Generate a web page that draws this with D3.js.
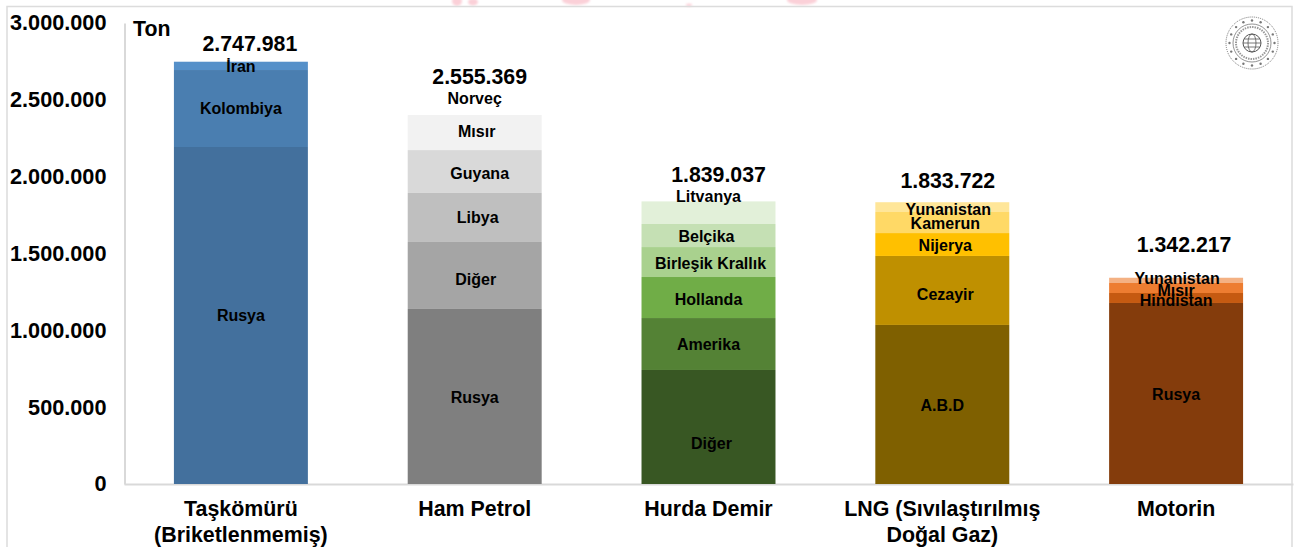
<!DOCTYPE html>
<html lang="tr">
<head>
  <meta charset="UTF-8" />
  <title>Ton</title>
  <script src="https://d3js.org/d3.v7.min.js" charset="utf-8"></script>
  <style type="text/css">
  html, body {
    margin: 0;
    padding: 0;
    background: #fff;
    overflow: hidden;
  }

  svg {
    display: block;
    font-family: "Liberation Sans", Arial, sans-serif;
    font-weight: bold;
    fill: #000;
  }

  .axis path.domain {
    stroke: #d9d9d9;
    stroke-width: 2px;
  }

  .axis text {
    fill: #000;
  }

  .y.axis text {
    font-size: 21.7px;
  }

  .x.axis text {
    font-size: 21.4px;
  }

  .seg-label {
    font-size: 16px;
    text-anchor: middle;
  }

  .total {
    font-size: 21.3px;
    text-anchor: middle;
  }
  </style>
</head>
<body>
<script type="text/javascript">

// values
var categories = ["Taşkömürü (Briketlenmemiş)", "Ham Petrol", "Hurda Demir", "LNG (Sıvılaştırılmış Doğal Gaz)", "Motorin"];
var totals = [2747981, 2555369, 1839037, 1833722, 1342217];

// bottom to top in each bar
var segNames = [
  ["Rusya", "Kolombiya", "İran"],
  ["Rusya", "Diğer", "Libya", "Guyana", "Mısır", "Norveç"],
  ["Diğer", "Amerika", "Hollanda", "Birleşik Krallık", "Belçika", "Litvanya"],
  ["A.B.D", "Cezayir", "Nijerya", "Kamerun", "Yunanistan"],
  ["Rusya", "Hindistan", "Mısır", "Yunanistan"]
];
var segValues = [
  [2193000, 501000, 53981],
  [1139000, 436000, 319000, 279000, 228000, 154369],
  [742000, 338000, 267000, 195000, 150000, 147037],
  [1035000, 449000, 149000, 137000, 63722],
  [1178000, 65000, 65000, 34217]
];
var segColors = [
  ["#43709d", "#4a7eb0", "#5590c9"],
  ["#7f7f7f", "#a5a5a5", "#bfbfbf", "#d9d9d9", "#f2f2f2", "#ffffff"],
  ["#385723", "#548235", "#70ad47", "#a9d18e", "#c5e0b4", "#e2f0d9"],
  ["#7f6000", "#bf9000", "#ffc000", "#ffd966", "#ffe699"],
  ["#843c0c", "#c55a11", "#ed7d31", "#f4b183"]
];
var yTicks = [0, 500000, 1000000, 1500000, 2000000, 2500000, 3000000];

// labels the original moved off the middle of their segment, "bar-seg": [dx, dy]
var labelNudge = {
  "0-2": [0, 1],
  "1-0": [0, 1], "1-1": [1, 4], "1-3": [5, 2], "1-2": [3, 0], "1-4": [2, -1.5], "1-5": [0, -5],
  "2-0": [3, 16], "2-1": [0, 0], "2-2": [0, 2], "2-3": [2, 1], "2-4": [-2, 1], "2-5": [0, -16],
  "3-0": [0, 1], "3-1": [3, 4], "3-2": [3, 1], "3-3": [3, 1], "3-4": [6, 2],
  "4-0": [0, 1], "4-1": [0, 2.5], "4-2": [0, 2], "4-3": [1, -2]
};
// same for the totals
var totalNudge = [[9, -11], [5, -7], [10, -19], [5.5, -14], [8, -26]];

var width = 1295,
    height = 547;

var svg = d3.select("body")
  .append("svg")
  .attr("width", width)
  .attr("height", height);

var defs = svg.append("defs");
defs.append("filter").attr("id", "soft").append("feGaussianBlur").attr("stdDeviation", 1.2);

// faded bit of the page watermark above the frame
var blobs = [[457, 1, 5, 5], [473, 2, 5, 3.5], [576, 0, 14, 5], [689, 5, 3, 1.5], [802, 0, 15, 5]];
svg.append("g").attr("filter", "url(#soft)").selectAll("ellipse")
  .data(blobs)
  .enter().append("ellipse")
    .attr("cx", function(d) { return d[0]; })
    .attr("cy", function(d) { return d[1]; })
    .attr("rx", function(d) { return d[2]; })
    .attr("ry", function(d) { return d[3]; })
    .attr("fill", "#fbd0d8");

// frame
svg.append("path")
  .attr("d", "M7,547V6.5H1292V547")
  .attr("fill", "none")
  .attr("stroke", "#dcdcdc")
  .attr("stroke-width", 1.5);

var x = d3.scaleBand()
  .domain(categories)
  .range([124, 1293])
  .paddingInner(0.427)
  .paddingOuter(0.2135);

var y = d3.scaleLinear()
  .domain([0, 3000000])
  .range([484, 23]);

var tr = d3.formatLocale({decimal: ",", thousands: ".", grouping: [3], currency: ["", ""]});
var fmt = tr.format(",d");

svg.append("g")
  .attr("class", "y axis")
  .attr("transform", "translate(124.5,0)")
  .call(d3.axisLeft(y).tickValues(yTicks).tickFormat(fmt).tickSize(0).tickPadding(18));

var xAxis = svg.append("g")
  .attr("class", "x axis")
  .attr("transform", "translate(0,484)")
  .call(d3.axisBottom(x).tickSize(0).tickPadding(17));

// two line category names
var wraps = {
  "Taşkömürü (Briketlenmemiş)": ["Taşkömürü", "(Briketlenmemiş)"],
  "LNG (Sıvılaştırılmış Doğal Gaz)": ["LNG (Sıvılaştırılmış", "Doğal Gaz)"]
};
xAxis.selectAll(".tick text").each(function(d) {
  var lines = wraps[d];
  if (!lines) return;
  var t = d3.select(this).text(null);
  lines.forEach(function(l, i) {
    t.append("tspan").attr("x", 0).attr("dy", i ? "1.22em" : "0.71em").text(l);
  });
});

svg.append("text")
  .attr("x", 133)
  .attr("y", 36)
  .attr("font-size", 21.3)
  .text("Ton");

// stacked bars
categories.forEach(function(cat, c) {
  var g = svg.append("g").attr("class", "bar");
  var base = 0;
  var stacked = segValues[c].map(function(v, i) {
    var d = {name: segNames[c][i], y0: base, y1: base + v, color: segColors[c][i], key: c + "-" + i};
    base += v;
    return d;
  });

  g.selectAll("rect")
    .data(stacked)
    .enter().append("rect")
      .attr("x", x(cat))
      .attr("width", x.bandwidth())
      .attr("y", function(d) { return y(d.y1); })
      .attr("height", function(d) { return y(d.y0) - y(d.y1); })
      .attr("fill", function(d) { return d.color; });

  g.selectAll("text.seg-label")
    .data(stacked)
    .enter().append("text")
      .attr("class", "seg-label")
      .attr("x", function(d) { return x(cat) + x.bandwidth() / 2 + (labelNudge[d.key] ? labelNudge[d.key][0] : 0); })
      .attr("y", function(d) { return (y(d.y0) + y(d.y1)) / 2 + (labelNudge[d.key] ? labelNudge[d.key][1] : 0); })
      .attr("dy", ".35em")
      .text(function(d) { return d.name; });
});

// totals above the bars
svg.append("g").selectAll("text")
  .data(categories)
  .enter().append("text")
    .attr("class", "total")
    .attr("x", function(d, i) { return x(d) + x.bandwidth() / 2 + totalNudge[i][0]; })
    .attr("y", function(d, i) { return y(totals[i]) + totalNudge[i][1]; })
    .text(function(d, i) { return fmt(totals[i]); });

// ministry seal, top right
var seal = svg.append("g").attr("transform", "translate(1252,43)").attr("fill", "none").attr("stroke", "#777");
seal.append("circle").attr("r", 26).attr("stroke-width", 1).attr("stroke-dasharray", "1 1");
seal.append("circle").attr("r", 19).attr("stroke-width", 0.8);
seal.append("circle").attr("r", 16).attr("stroke-width", 2).attr("stroke-dasharray", "1.5 1").attr("stroke", "#999");
seal.append("circle").attr("r", 9).attr("stroke-width", 1).attr("stroke", "#555");
seal.append("ellipse").attr("rx", 4).attr("ry", 9).attr("stroke-width", 0.8).attr("stroke", "#555");
seal.append("path").attr("d", "M-9,0H9M-8,-4H8M-8,4H8").attr("stroke-width", 0.8).attr("stroke", "#555");
seal.selectAll("circle.star")
  .data(d3.range(16))
  .enter().append("circle")
    .attr("class", "star")
    .attr("r", 1.2)
    .attr("cx", function(d) { return 22.5 * Math.cos(d * Math.PI / 8); })
    .attr("cy", function(d) { return 22.5 * Math.sin(d * Math.PI / 8); })
    .attr("fill", "#777")
    .attr("stroke", "none");

</script>
</body>
</html>
